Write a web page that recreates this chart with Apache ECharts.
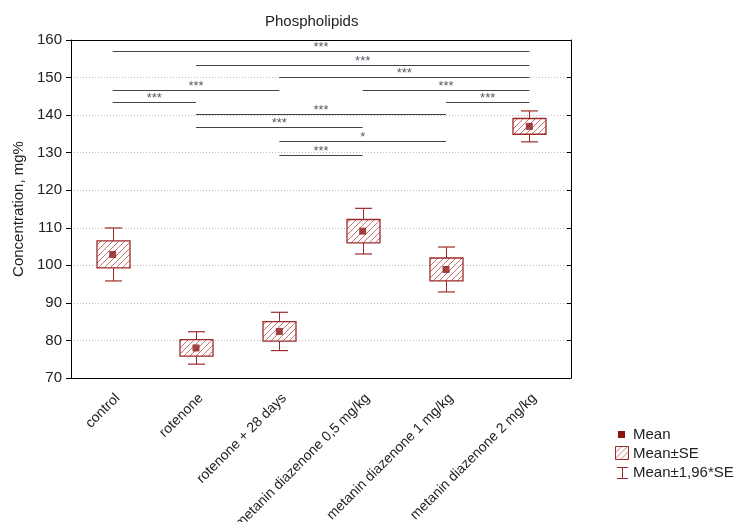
<!DOCTYPE html>
<html>
<head>
<meta charset="utf-8">
<script src="https://cdn.jsdelivr.net/npm/echarts@6/dist/echarts.min.js"></script>
<style>
  html, body { margin: 0; padding: 0; background: #fff; }
  #main { width: 738px; height: 522px; }
</style>
</head>
<body>
<div id="main"></div>
<script>
// groups on the x axis
var groups = ['control', 'rotenone', 'rotenone + 28 days', 'metanin diazenone 0,5 mg/kg',
              'metanin diazenone 1 mg/kg', 'metanin diazenone 2 mg/kg'];
// means and standard errors (mg%)
var means = [102.9, 78.0, 82.4, 109.1, 98.9, 137.0];
var se = [3.6, 2.2, 2.6, 3.1, 3.05, 2.1];
var yTicks = [70, 80, 90, 100, 110, 120, 130, 140, 150, 160];

// significance brackets: from group, to group, height, mark
var sigFrom = [0, 1, 2, 0, 3, 0, 4, 1, 1, 2, 2];
var sigTo = [5, 5, 5, 2, 5, 1, 5, 4, 3, 4, 3];
var sigLevel = [157.1, 153.3, 150.2, 146.7, 146.7, 143.4, 143.4, 140.2, 136.8, 133.0, 129.3];
var sigMark = ['***', '***', '***', '***', '***', '***', '***', '***', '***', '*', '***'];

var FONT = "'Liberation Sans', Arial, sans-serif";
var RED = '#9b2b2b';

function makeHatch() {
  var c = document.createElement('canvas');
  c.width = 6; c.height = 6;
  var g = c.getContext('2d');
  g.fillStyle = '#fff';
  g.fillRect(0, 0, 6, 6);
  g.strokeStyle = '#c87272';
  g.lineWidth = 1;
  g.beginPath();
  g.moveTo(0, 6); g.lineTo(6, 0);
  g.moveTo(-1, 1); g.lineTo(1, -1);
  g.moveTo(5, 7); g.lineTo(7, 5);
  g.stroke();
  return c;
}
var hatch = makeHatch();

var boxData = [], meanData = [], sigData = [];
for (var i = 0; i < groups.length; i++) {
  boxData.push([i, means[i], se[i]]);
  meanData.push([i, means[i]]);
}
for (var k = 0; k < sigFrom.length; k++) {
  sigData.push([sigFrom[k], sigTo[k], sigLevel[k], sigMark[k]]);
}

var chart = echarts.init(document.getElementById('main'));

var option = {
  backgroundColor: '#fff',
  animation: false,
  title: {
    text: 'Phospholipids',
    left: 265, top: 14, padding: 0,
    textStyle: { fontFamily: FONT, fontSize: 15, fontWeight: 'normal', color: '#222' }
  },
  grid: { left: 71, right: 167, top: 40, bottom: 144, outerBoundsMode: 'none' },
  xAxis: [
    {
      type: 'category', data: groups, position: 'bottom',
      axisLine: { lineStyle: { color: '#000', width: 1 } },
      axisTick: { alignWithLabel: true, length: 4, lineStyle: { color: '#000' } },
      axisLabel: { rotate: 45, margin: 13, verticalAlign: 'top', fontFamily: FONT, fontSize: 14, color: '#222' },
      splitLine: { show: false }
    },
    {
      type: 'category', data: groups, position: 'top',
      axisLine: { lineStyle: { color: '#000', width: 1 } },
      axisTick: { alignWithLabel: true, inside: true, length: 3, lineStyle: { color: '#000' } },
      axisLabel: { show: false }
    },
    {
      type: 'category', data: groups, position: 'bottom',
      axisLine: { show: false },
      axisTick: { alignWithLabel: true, inside: true, length: 3, lineStyle: { color: '#000' } },
      axisLabel: { show: false }
    }
  ],
  yAxis: [
    {
      type: 'value', min: 70, max: 160, interval: 10, position: 'left',
      name: 'Concentration, mg%', nameLocation: 'middle', nameGap: 45,
      nameTextStyle: { fontFamily: FONT, fontSize: 15, color: '#222' },
      axisLine: { show: true, lineStyle: { color: '#000', width: 1 } },
      axisTick: { show: true, length: 5, lineStyle: { color: '#000' } },
      axisLabel: { margin: 9, fontFamily: FONT, fontSize: 15, color: '#222',
        formatter: function (v) { return yTicks.indexOf(v) >= 0 ? v : ''; } },
      splitLine: { show: true, lineStyle: { color: '#bbb', type: [1, 2], width: 1 } }
    },
    {
      type: 'value', min: 70, max: 160, interval: 10, position: 'right',
      axisLine: { show: true, lineStyle: { color: '#000', width: 1 } },
      axisTick: { show: true, inside: true, length: 4, lineStyle: { color: '#000' } },
      axisLabel: { show: false },
      splitLine: { show: false }
    }
  ],
  series: [
    {
      name: 'Mean±SE', type: 'custom', data: boxData, z: 2,
      renderItem: function (params, api) {
        var x = api.value(0), m = api.value(1), s = api.value(2);
        var c = api.coord([x, m]);
        var wTop = api.coord([x, m + 1.96 * s])[1];
        var wBot = api.coord([x, m - 1.96 * s])[1];
        var bTop = api.coord([x, m + s])[1];
        var bBot = api.coord([x, m - s])[1];
        var cx = Math.round(c[0]) + 0.5;
        var bw = 33, cw = 17;
        return {
          type: 'group',
          children: [
            { type: 'line', shape: { x1: cx, y1: wTop, x2: cx, y2: wBot },
              style: { stroke: RED, lineWidth: 1 } },
            { type: 'line', shape: { x1: cx - cw / 2, y1: wTop, x2: cx + cw / 2, y2: wTop },
              style: { stroke: RED, lineWidth: 1.2 } },
            { type: 'line', shape: { x1: cx - cw / 2, y1: wBot, x2: cx + cw / 2, y2: wBot },
              style: { stroke: RED, lineWidth: 1.2 } },
            { type: 'rect', shape: { x: cx - bw / 2, y: bTop, width: bw, height: bBot - bTop },
              style: { fill: { image: hatch, repeat: 'repeat' }, stroke: RED, lineWidth: 1.3 } }
          ]
        };
      }
    },
    {
      name: 'Mean', type: 'scatter', data: meanData, z: 3,
      symbol: 'rect', symbolSize: 7,
      itemStyle: { color: '#8b1414' }
    },
    {
      name: 'sig', type: 'custom', data: sigData, z: 4,
      renderItem: function (params, api) {
        var a = api.coord([api.value(0), api.value(2)]);
        var b = api.coord([api.value(1), api.value(2)]);
        var y = Math.round(a[1]) + 0.5;
        return {
          type: 'group',
          children: [
            { type: 'line', shape: { x1: a[0], y1: y, x2: b[0], y2: y },
              style: { stroke: '#444', lineWidth: 1 } },
            { type: 'text',
              style: { text: sigMark[params.dataIndex], x: (a[0] + b[0]) / 2, y: y - 4,
                align: 'center', verticalAlign: 'middle',
                font: '13px ' + FONT, fill: '#555a66' } }
          ]
        };
      }
    }
  ],
  graphic: [
    { type: 'rect', left: 618, top: 431, shape: { width: 7, height: 7 }, style: { fill: '#8b1414' } },
    { type: 'text', left: 633, top: 427, style: { text: 'Mean', font: '15px ' + FONT, fill: '#222' } },
    { type: 'rect', x: 615.5, y: 446.5, shape: { x: 0, y: 0, width: 13, height: 13 },
      style: { fill: { image: hatch, repeat: 'repeat' }, stroke: RED, lineWidth: 1 } },
    { type: 'text', left: 633, top: 446, style: { text: 'Mean±SE', font: '15px ' + FONT, fill: '#222' } },
    { type: 'polyline', shape: { points: [[617, 467.5], [628, 467.5]] }, style: { stroke: RED, lineWidth: 1 } },
    { type: 'polyline', shape: { points: [[622.5, 467.5], [622.5, 478.5]] }, style: { stroke: RED, lineWidth: 1 } },
    { type: 'polyline', shape: { points: [[617, 478.5], [628, 478.5]] }, style: { stroke: RED, lineWidth: 1 } },
    { type: 'text', left: 633, top: 465, style: { text: 'Mean±1,96*SE', font: '15px ' + FONT, fill: '#222' } }
  ]
};

chart.setOption(option);
</script>
</body>
</html>
